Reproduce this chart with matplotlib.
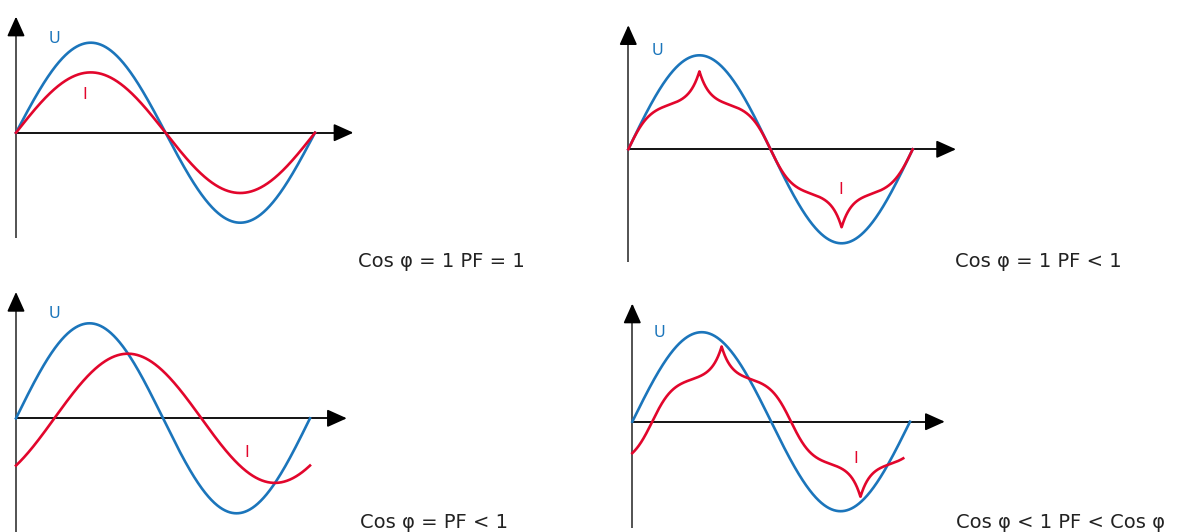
import numpy as np
import matplotlib
matplotlib.use("Agg")
import matplotlib.pyplot as plt

W, H = 1185, 532
BLUE = "#1b75bb"
RED = "#e2062c"

# Panel layout in pixels: origin x, origin y, period width, voltage amplitude
panel_x0 = [16.0, 628.3, 16.0, 632.3]
panel_y0 = [132.7, 149.3, 418.3, 421.7]
panel_period = [299.0, 284.4, 294.0, 277.7]
panel_amp = [90.0, 94.0, 95.0, 89.5]

# Axis extents in data units (phase in rad, amplitude relative to U)
yaxis_top = [1.29, 1.32, 1.33, 1.32]
yaxis_bottom = [-1.17, -1.20, -1.20, -1.19]
xaxis_tip = [7.09, 7.24, 7.07, 7.07]

# Current waveform parameters
cur_kind = ["sine", "distorted", "sine", "distorted"]
cur_amp = [0.67, 0.48, 0.68, 0.48]        # fundamental / base amplitude
cur_lag = [0.0, 0.0, 0.82, 0.45]          # phase lag of current (rad)
cur_sat = [0.0, 2.0, 0.0, 2.0]            # saturation of the base shape
cur_spike = [0.0, 0.35, 0.0, 0.36]        # cusp height at the peaks
cur_width = [0.0, 0.22, 0.0, 0.22]        # cusp decay width (rad)
cur_end = [2 * np.pi, 2 * np.pi, 2 * np.pi, 6.13]

# Label positions (data units)
u_label = [(0.80, 1.05), (0.64, 1.05), (0.82, 1.10), (0.61, 1.00)]
i_label = [(1.45, 0.42), (4.69, -0.43), (4.94, -0.36), (5.06, -0.41)]

captions = ["Cos φ = 1 PF = 1", "Cos φ = 1 PF < 1",
            "Cos φ = PF < 1", "Cos φ < 1 PF < Cos φ"]
caption_xy = [(358, 262), (955, 262), (360, 523), (956, 523)]

plt.rcParams["font.family"] = ["DejaVu Sans"]
fig = plt.figure(figsize=(W / 100, H / 100), dpi=100)


def current(kind, t, amp, lag, sat, spike, width):
    ph = t - lag
    if kind == "sine":
        return amp * np.sin(ph)
    base = amp * np.tanh(sat * np.sin(ph)) / np.tanh(sat)
    cusp = np.zeros_like(ph)
    for k in range(-2, 4):
        peak = np.pi / 2 + k * np.pi
        cusp += (-1) ** k * np.exp(-np.abs(ph - peak) / width)
    return base + spike * cusp


for i in range(4):
    x0, y0, per, amp = panel_x0[i], panel_y0[i], panel_period[i], panel_amp[i]
    ax = fig.add_axes([x0 / W, (H - y0 - amp) / H, per / W, 2 * amp / H])
    ax.set_xlim(0, 2 * np.pi)
    ax.set_ylim(-1, 1)
    ax.axis("off")

    # coordinate axes with arrow heads
    ax.plot([0, 0], [yaxis_bottom[i], yaxis_top[i] - 0.1], color="#444444",
            lw=1.3, clip_on=False, solid_capstyle="butt")
    ax.annotate("", xy=(0, yaxis_top[i]), xytext=(0, yaxis_top[i] - 0.12),
                arrowprops=dict(arrowstyle="-|>,head_length=1.0,head_width=0.45",
                                mutation_scale=12, color="black", lw=1.3,
                                shrinkA=0, shrinkB=0),
                annotation_clip=False)
    ax.plot([0, xaxis_tip[i] - 0.2], [0, 0], color="black", lw=1.3,
            clip_on=False, solid_capstyle="butt")
    ax.annotate("", xy=(xaxis_tip[i], 0), xytext=(xaxis_tip[i] - 0.3, 0),
                arrowprops=dict(arrowstyle="-|>,head_length=1.0,head_width=0.45",
                                mutation_scale=12, color="black", lw=1.3,
                                shrinkA=0, shrinkB=0),
                annotation_clip=False)

    t = np.linspace(0, 2 * np.pi, 800)
    ax.plot(t, np.sin(t), color=BLUE, lw=1.9, clip_on=False, zorder=3)
    tc = np.linspace(0, cur_end[i], 2000)
    ic = current(cur_kind[i], tc, cur_amp[i], cur_lag[i], cur_sat[i],
                 cur_spike[i], cur_width[i])
    ax.plot(tc, ic, color=RED, lw=1.9, clip_on=False, zorder=4)

    ax.text(*u_label[i], "U", color=BLUE, fontsize=11.5, ha="center", va="center")
    ax.text(*i_label[i], "I", color=RED, fontsize=11.5, ha="center", va="center")

    cx, cy = caption_xy[i]
    fig.text(cx / W, 1 - cy / H, captions[i], fontsize=14, color="#222222",
             ha="left", va="center")

fig.savefig("out.png", dpi=100)
